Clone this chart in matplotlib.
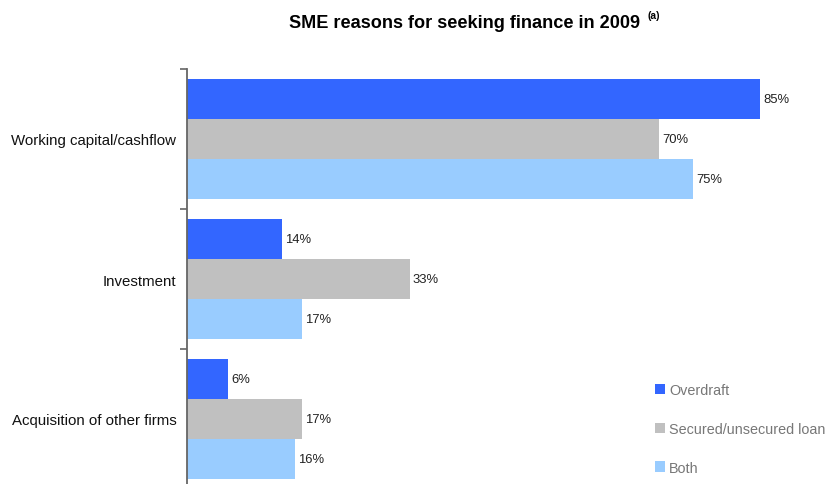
import matplotlib
matplotlib.use("Agg")
import matplotlib.pyplot as plt
from matplotlib.patches import Patch
import numpy as np

plt.rcParams['font.family'] = ['Liberation Sans', 'DejaVu Sans']

categories = ["Working capital/cashflow", "Investment", "Acquisition of other firms"]
series_names = ["Overdraft", "Secured/unsecured loan", "Both"]
overdraft = [85, 14, 6]
loan = [70, 33, 17]
both = [75, 17, 16]
colors = ["#3366FF", "#C0C0C0", "#99CCFF"]

W, H = 829, 485
fig = plt.figure(figsize=(W / 100, H / 100), dpi=100)

# axes spans from the left spine to the right edge; bottom group runs past the image edge
left_px, top_px, bottom_px = 187.5, 70, 490
ax = fig.add_axes([left_px / W, 1 - bottom_px / H, 1 - left_px / W, (bottom_px - top_px) / H])

y = np.arange(len(categories))
bh = 40 / 140
for k, (vals, name, c) in enumerate(zip([overdraft, loan, both], series_names, colors)):
    pos = y + (k - 1) * bh
    ax.barh(pos, vals, height=bh, color=c, label=name, edgecolor='none')
    for p, v in zip(pos, vals):
        ax.text(v + 0.45, p, f"{v}%", va='center', ha='left', fontsize=9.4, color='#222222')

ax.set_xlim(0, (W - left_px) / 6.74)
ax.set_ylim(len(categories) - 0.5, -0.5)

for s in ['top', 'right', 'bottom']:
    ax.spines[s].set_visible(False)
ax.spines['left'].set_color('#666666')
ax.spines['left'].set_linewidth(1.3)
ax.set_xticks([])

# boundary ticks between groups, category names as unticked minor labels
ax.set_yticks(np.arange(-0.5, len(categories), 1.0))
ax.set_yticklabels([])
ax.tick_params(axis='y', which='major', length=5, width=1.2, color='#666666')
ax.set_yticks(y, minor=True)
ax.set_yticklabels(categories, minor=True, fontsize=10.8, color='#111111')
ax.tick_params(axis='y', which='minor', length=0, pad=8)

fig.text(465 / W, 1 - 23 / H, "SME reasons for seeking finance in 2009", ha='center', va='center',
         fontsize=13.1, fontweight='bold')
fig.text(647 / W, 1 - 16 / H, "(a)", ha='left', va='center', fontsize=7.5, fontweight='bold')

handles = [Patch(facecolor=c, edgecolor='none') for c in colors]
leg = fig.legend(handles, series_names, loc='upper left', bbox_to_anchor=(655 / W, 1 - 384 / H),
                 frameon=False, fontsize=10.4, handlelength=0.72, handleheight=0.72,
                 handletextpad=0.25, labelspacing=1.72, borderaxespad=0, borderpad=0)
for t in leg.get_texts():
    t.set_color('#777777')

fig.savefig("out.png", dpi=100)
